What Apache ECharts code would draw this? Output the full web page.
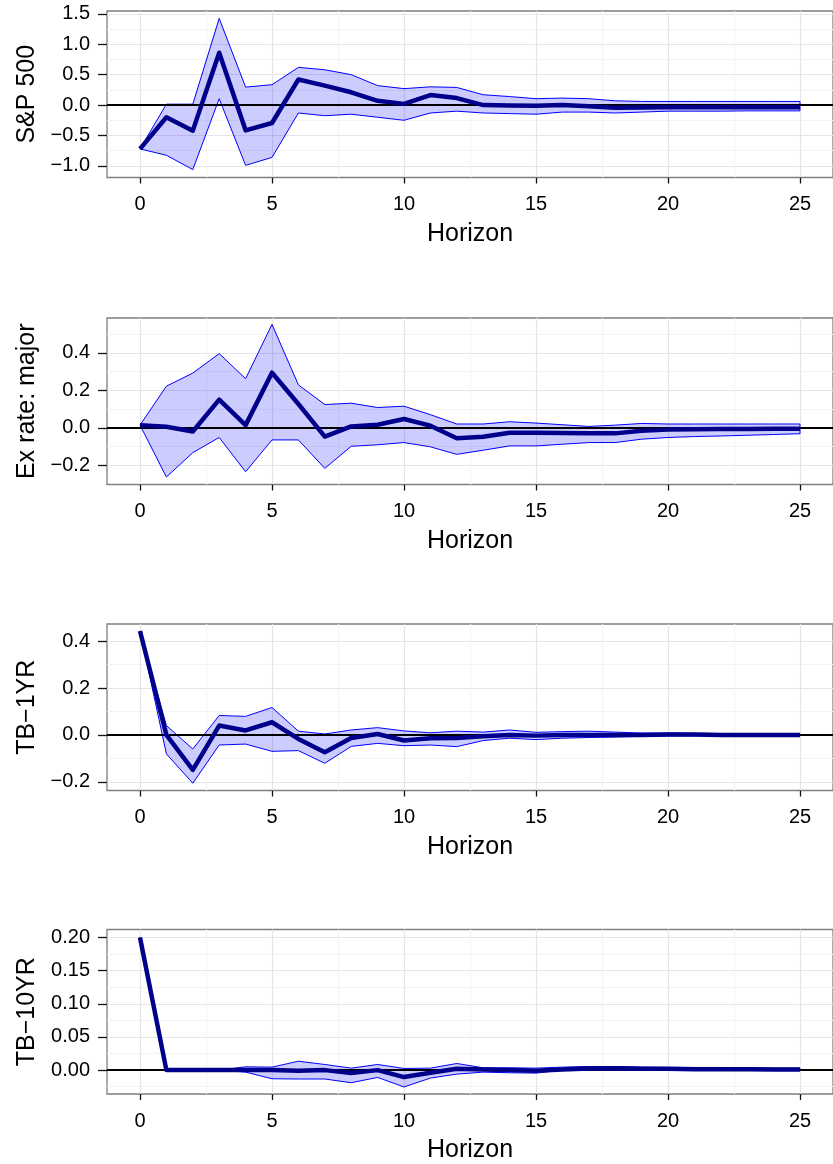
<!DOCTYPE html>
<html><head><meta charset="utf-8">
<script src="https://cdn.jsdelivr.net/npm/echarts@6/dist/echarts.min.js"></script>
<style>html,body{margin:0;padding:0;background:#fff}#c{width:833px;height:1164px}</style>
</head><body><div id="c"></div>
<script>
// ---------- data ----------
const horizon = [0,1,2,3,4,5,6,7,8,9,10,11,12,13,14,15,16,17,18,19,20,21,22,23,24,25];

const spMean  = [-0.72,-0.2,-0.42,0.86,-0.415,-0.295,0.42,0.32,0.21,0.07,0.02,0.165,0.115,0.0,-0.005,-0.01,0.0,-0.02,-0.045,-0.04,-0.035,-0.035,-0.035,-0.035,-0.035,-0.035];
const spUpper = [-0.72,0.015,0.015,1.425,0.295,0.335,0.62,0.58,0.5,0.32,0.27,0.3,0.29,0.17,0.14,0.105,0.115,0.105,0.07,0.06,0.06,0.06,0.06,0.06,0.06,0.06];
const spLower = [-0.72,-0.825,-1.06,0.105,-0.99,-0.86,-0.13,-0.175,-0.15,-0.2,-0.25,-0.13,-0.1,-0.13,-0.14,-0.15,-0.115,-0.115,-0.13,-0.115,-0.1,-0.1,-0.1,-0.095,-0.095,-0.095];

const exMean  = [0.014,0.005,-0.02,0.15,0.014,0.294,0.127,-0.047,0.007,0.016,0.047,0.011,-0.056,-0.048,-0.027,-0.027,-0.028,-0.03,-0.03,-0.016,-0.01,-0.008,-0.007,-0.006,-0.005,-0.005];
const exUpper = [0.014,0.222,0.292,0.396,0.262,0.552,0.229,0.124,0.131,0.108,0.115,0.07,0.02,0.02,0.032,0.025,0.016,0.007,0.014,0.023,0.02,0.02,0.02,0.02,0.02,0.02];
const exLower = [0.014,-0.263,-0.133,-0.052,-0.235,-0.065,-0.065,-0.217,-0.099,-0.091,-0.079,-0.102,-0.142,-0.12,-0.097,-0.097,-0.088,-0.079,-0.079,-0.061,-0.052,-0.047,-0.044,-0.04,-0.036,-0.032];

const tb1Mean  = [0.443,0.0,-0.149,0.04,0.019,0.054,-0.017,-0.074,-0.013,0.004,-0.024,-0.014,-0.013,-0.006,0.0,-0.003,0.0,0.0,0.0,0.0,0.002,0.002,0.0,0.0,0.0,0.0];
const tb1Upper = [0.443,0.04,-0.06,0.083,0.079,0.117,0.016,0.004,0.021,0.031,0.017,0.009,0.016,0.012,0.021,0.011,0.014,0.016,0.012,0.008,0.008,0.007,0.006,0.005,0.005,0.005];
const tb1Lower = [0.443,-0.081,-0.206,-0.043,-0.039,-0.07,-0.067,-0.121,-0.049,-0.036,-0.046,-0.043,-0.05,-0.024,-0.014,-0.02,-0.014,-0.011,-0.009,-0.006,-0.004,-0.004,-0.004,-0.003,-0.003,-0.003];

const tb10Mean  = [0.2,0,0,0,0,0,-0.001,0,-0.0045,0,-0.0105,-0.004,0.002,0.001,0,-0.001,0.001,0.0025,0.003,0.002,0.002,0.0015,0.0015,0.0015,0.001,0.001];
const tb10Upper = [0.2,0,0,0,0.005,0.0045,0.0134,0.0085,0.003,0.0085,0.0025,0.003,0.01,0.0035,0.0035,0.003,0.0045,0.0055,0.0055,0.0045,0.004,0.004,0.004,0.0035,0.003,0.003];
const tb10Lower = [0.2,0,0,0,-0.003,-0.013,-0.0134,-0.0134,-0.019,-0.011,-0.0254,-0.012,-0.006,-0.003,-0.004,-0.0045,0,0.0005,0.0005,0,0,-0.0005,-0.0005,-0.0005,-0.0005,-0.0005];

const panelNames = ['S&P 500', 'Ex rate: major', 'TB\u22121YR', 'TB\u221210YR'];
const xLabel = 'Horizon';

const xTicks = [0,5,10,15,20,25];
const xMinor = [2.5,7.5,12.5,17.5,22.5];

const spTicks  = [-1.0,-0.5,0.0,0.5,1.0,1.5];
const spMinor  = [-0.75,-0.25,0.25,0.75,1.25];
const exTicks  = [-0.2,0.0,0.2,0.4];
const exMinor  = [-0.1,0.1,0.3,0.5];
const tb1Ticks = [-0.2,0.0,0.2,0.4];
const tb1Minor = [-0.1,0.1,0.3];
const tb10Ticks = [0.0,0.05,0.10,0.15,0.20];
const tb10Minor = [-0.025,0.025,0.075,0.125,0.175];

// ---------- layout / style ----------
const panels = [
  {name: panelNames[0], mean: spMean,  up: spUpper,  lo: spLower,  ticks: spTicks,  minor: spMinor,  dec: 1, min: -1.19,  max: 1.546, top: 11},
  {name: panelNames[1], mean: exMean,  up: exUpper,  lo: exLower,  ticks: exTicks,  minor: exMinor,  dec: 1, min: -0.303, max: 0.586, top: 318},
  {name: panelNames[2], mean: tb1Mean, up: tb1Upper, lo: tb1Lower, ticks: tb1Ticks, minor: tb1Minor, dec: 1, min: -0.237, max: 0.473, top: 624},
  {name: panelNames[3], mean: tb10Mean,up: tb10Upper,lo: tb10Lower,ticks: tb10Ticks,minor: tb10Minor,dec: 2, min: -0.036, max: 0.212, top: 929.5}
];
const FONT = "'Liberation Sans', Arial, Helvetica, sans-serif";
const fmt = (v, d) => (v < -1e-12 ? '\u2212' : '') + Math.abs(v).toFixed(d);

const grid = [], xAxis = [], yAxis = [], series = [];
panels.forEach((p, i) => {
  grid.push({left: 107, width: 733, top: p.top, height: 166.5, show: true,
    borderColor: '#7f7f7f', borderWidth: 1.3, backgroundColor: 'transparent'});
  // major x
  xAxis.push({gridIndex: i, type: 'value', min: -1.25, max: 26.25, position: 'bottom',
    axisLine: {show: false, onZero: false},
    axisTick: {show: true, customValues: xTicks, length: 6, lineStyle: {color: '#111', width: 1.3}},
    axisLabel: {customValues: xTicks, fontSize: 20, fontFamily: FONT, color: '#000', margin: 17},
    splitLine: {show: true, lineStyle: {color: '#e5e5e5', width: 1.2}},
    name: xLabel, nameLocation: 'middle', nameGap: 44,
    nameTextStyle: {fontSize: 25, fontFamily: FONT, color: '#000'}});
  // minor x
  xAxis.push({gridIndex: i, type: 'value', min: -1.25, max: 26.25, position: 'top',
    axisLine: {show: false, onZero: false}, axisLabel: {show: false},
    axisTick: {show: false, customValues: xMinor},
    splitLine: {show: true, lineStyle: {color: '#f4f4f4', width: 1.2}}});
  // major y
  yAxis.push({gridIndex: i, type: 'value', min: p.min, max: p.max, position: 'left',
    axisLine: {show: false, onZero: false},
    axisTick: {show: true, customValues: p.ticks, length: 9, lineStyle: {color: '#111', width: 1.3}},
    axisLabel: {customValues: p.ticks, fontSize: 20, fontFamily: FONT, color: '#000', margin: 17,
      formatter: ((d) => (v) => fmt(v, d))(p.dec)},
    splitLine: {show: true, lineStyle: {color: '#e5e5e5', width: 1.2}},
    name: p.name, nameLocation: 'middle', nameGap: 67, nameRotate: 90,
    nameTextStyle: {fontSize: 25, fontFamily: FONT, color: '#000'}});
  // minor y
  yAxis.push({gridIndex: i, type: 'value', min: p.min, max: p.max, position: 'right',
    axisLine: {show: false, onZero: false}, axisLabel: {show: false},
    axisTick: {show: false, customValues: p.minor},
    splitLine: {show: true, lineStyle: {color: '#f4f4f4', width: 1.2}}});

  // ribbon (filled polygon with blue outline, through the axis scales)
  series.push({type: 'custom', xAxisIndex: 2*i, yAxisIndex: 2*i, z: 1, silent: true,
    data: [[horizon[0], p.lo[0]]],
    renderItem: (params, api) => {
      const pts = [];
      horizon.forEach((h, k) => pts.push(api.coord([h, p.up[k]])));
      for (let k = horizon.length - 1; k >= 0; k--) pts.push(api.coord([horizon[k], p.lo[k]]));
      return {type: 'polygon', shape: {points: pts},
        style: {fill: 'rgba(0,0,255,0.2)', stroke: '#0000ff', lineWidth: 1, lineJoin: 'round'}};
    }});
  // mean response + zero reference line
  series.push({type: 'line', xAxisIndex: 2*i, yAxisIndex: 2*i,
    data: horizon.map((h, k) => [h, p.mean[k]]), symbol: 'none', z: 4,
    lineStyle: {color: '#00008b', width: 4.5, join: 'round'}, silent: true,
    markLine: {silent: true, symbol: ['none', 'none'], z: 3, label: {show: false},
      lineStyle: {color: '#000', width: 1.8, type: 'solid'}, data: [{yAxis: 0}]}});
});

const chart = echarts.init(document.getElementById('c'), null, {renderer: 'canvas'});
chart.setOption({animation: false, backgroundColor: '#fff', grid, xAxis, yAxis, series});
</script>
</body></html>
